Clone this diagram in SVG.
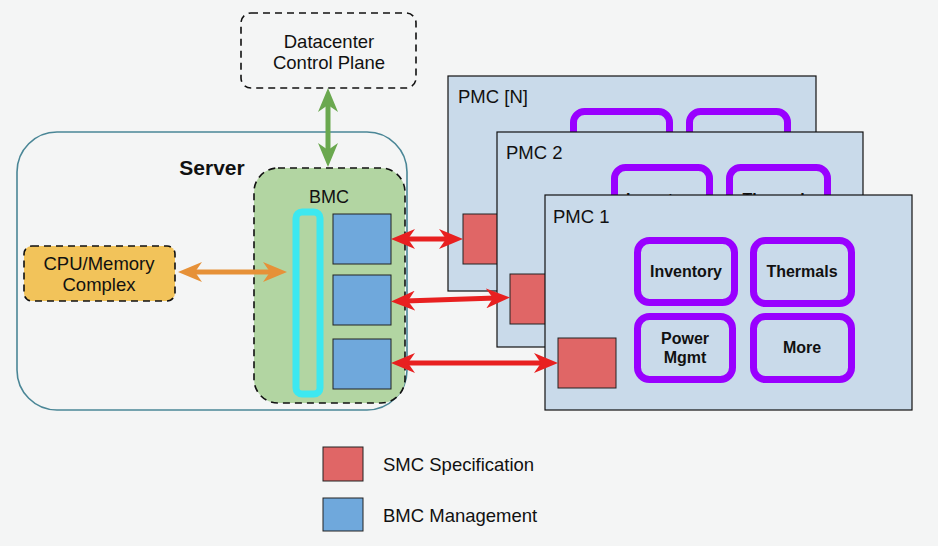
<svg xmlns="http://www.w3.org/2000/svg" width="938" height="546" viewBox="0 0 938 546">
<defs>
<style>
text{font-family:"Liberation Sans",Arial,sans-serif;fill:#111}
.t{font-size:18.5px}
.lbl{font-size:16px;font-weight:bold;text-anchor:middle}
.pmc{fill:#c9daea;stroke:#111;stroke-width:1.2}
.red{fill:#e06666;stroke:#222;stroke-width:1}
.blue{fill:#6fa8dc;stroke:#222;stroke-width:1}
.pur{fill:none;stroke:#9900ff;stroke-width:7}
.dash{stroke:#111;stroke-width:1.6;stroke-dasharray:7 5}
</style>
<marker id="mr" viewBox="0 0 24 20" refX="10" refY="10" markerWidth="24" markerHeight="20" markerUnits="userSpaceOnUse" orient="auto-start-reverse"><path d="M0,0 L24,10 L0,20 L7,10 Z" fill="#e82020"/></marker>
<marker id="mg" viewBox="0 0 24 20" refX="10" refY="10" markerWidth="24" markerHeight="20" markerUnits="userSpaceOnUse" orient="auto-start-reverse"><path d="M0,0 L24,10 L0,20 L7,10 Z" fill="#6aa84f"/></marker>
<marker id="mo" viewBox="0 0 24 20" refX="10" refY="10" markerWidth="24" markerHeight="20" markerUnits="userSpaceOnUse" orient="auto-start-reverse"><path d="M0,0 L24,10 L0,20 L7,10 Z" fill="#e69138"/></marker>
</defs>
<rect width="938" height="546" fill="#f4f5f5"/>

<g id="datacenter">
<rect x="241" y="13" width="175" height="75" rx="10" fill="none" class="dash"/>
<text class="t" x="329" y="48" text-anchor="middle">Datacenter</text>
<text class="t" x="329" y="69" text-anchor="middle">Control Plane</text>
</g>

<g id="server">
<rect x="17" y="132" width="390" height="278" rx="40" fill="none" stroke="#4a8696" stroke-width="1.6"/>
<text x="212" y="175" font-size="21" font-weight="bold" text-anchor="middle">Server</text>
</g>

<g id="cpu">
<rect x="24" y="246" width="151" height="55" rx="8" fill="#f2c35a" class="dash"/>
<text class="t" x="99" y="270" text-anchor="middle">CPU/Memory</text>
<text class="t" x="99" y="291" text-anchor="middle">Complex</text>
</g>

<g id="bmc">
<rect x="254" y="168" width="151" height="235" rx="24" fill="#b2d5a2" class="dash"/>
<text x="329" y="203" font-size="18" text-anchor="middle">BMC</text>
<rect x="296" y="212" width="24" height="182" rx="6" fill="#b2d5a2" stroke="#3de8f0" stroke-width="7"/>
<rect x="333" y="214" width="58" height="50" class="blue"/>
<rect x="333" y="275" width="58" height="50" class="blue"/>
<rect x="333" y="339" width="58" height="50" class="blue"/>
</g>

<g id="pmc-n">
<rect x="448" y="76" width="368" height="215" class="pmc"/>
<text class="t" x="458" y="103">PMC [N]</text>
<rect x="573.5" y="111.5" width="96" height="62" rx="11" class="pur"/>
<rect x="689.5" y="111.5" width="98" height="62" rx="11" class="pur"/>
<rect x="463" y="214" width="58" height="50" class="red"/>
</g>

<g id="pmc-2">
<rect x="497" y="132" width="366" height="215" class="pmc"/>
<text class="t" x="506" y="159">PMC 2</text>
<rect x="614.5" y="167.5" width="95" height="62" rx="11" class="pur"/>
<rect x="729.5" y="167.5" width="98" height="62" rx="11" class="pur"/>
<text class="lbl" x="662" y="205">Inventory</text>
<text class="lbl" x="778" y="205">Thermals</text>
<rect x="510" y="274" width="58" height="50" class="red"/>
</g>

<g id="pmc-1">
<rect x="545" y="195" width="367" height="215" class="pmc"/>
<text class="t" x="553" y="223">PMC 1</text>
<rect x="558" y="338" width="58" height="50" class="red"/>
</g>

<g id="inventory">
<rect x="637.5" y="240.5" width="97" height="62" rx="12" class="pur"/>
<text class="lbl" x="686" y="277">Inventory</text>
</g>
<g id="thermals">
<rect x="753.5" y="240.5" width="98" height="63" rx="12" class="pur"/>
<text class="lbl" x="802" y="277">Thermals</text>
</g>
<g id="power">
<rect x="637.5" y="316.5" width="95" height="63" rx="12" class="pur"/>
<text class="lbl" x="685" y="344">Power</text>
<text class="lbl" x="685" y="363">Mgmt</text>
</g>
<g id="more">
<rect x="753.5" y="316.5" width="98" height="63" rx="12" class="pur"/>
<text class="lbl" x="802" y="353">More</text>
</g>

<g id="connectors" fill="none" stroke-width="5">
<line x1="328" y1="102" x2="328" y2="153" stroke="#6aa84f" marker-start="url(#mg)" marker-end="url(#mg)"/>
<line x1="192" y1="272" x2="273" y2="272" stroke="#e69138" marker-start="url(#mo)" marker-end="url(#mo)"/>
<line x1="405" y1="239" x2="449" y2="239" stroke="#e82020" marker-start="url(#mr)" marker-end="url(#mr)"/>
<line x1="405" y1="301" x2="496" y2="298" stroke="#e82020" marker-start="url(#mr)" marker-end="url(#mr)"/>
<line x1="405" y1="363" x2="544" y2="363" stroke="#e82020" marker-start="url(#mr)" marker-end="url(#mr)"/>
</g>

<g id="legend">
<rect x="323" y="447" width="40" height="34" class="red"/>
<text class="t" x="383" y="471">SMC Specification</text>
<rect x="323" y="498" width="40" height="33" class="blue"/>
<text class="t" x="383" y="522">BMC Management</text>
</g>
</svg>
